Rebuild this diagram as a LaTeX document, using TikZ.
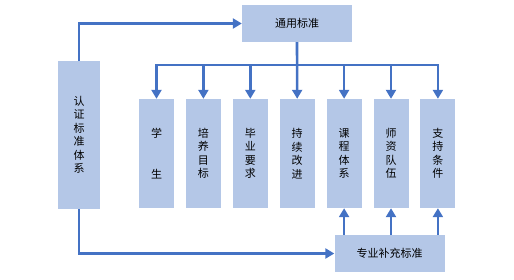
\documentclass[tikz,border=0pt]{standalone}
\usepackage{fontspec}
\setmainfont{Noto Sans CJK SC}
\usetikzlibrary{arrows.meta,positioning}
\definecolor{boxblue}{HTML}{B4C7E7}
\definecolor{lineblue}{HTML}{4472C4}

\begin{document}
\begin{tikzpicture}[x=1pt, y=-1pt,
        node distance=11.5pt and 11.5pt,
        stdbox/.style={rectangle, fill=boxblue, minimum width=110pt, minimum height=37pt, inner sep=0pt, font=\fontsize{11}{13.5}\selectfont},
        column/.style={rectangle, fill=boxblue, minimum width=35pt, minimum height=109pt, inner sep=0pt, align=center, font=\fontsize{11}{13.5}\selectfont},
        arrow/.style={-{Triangle[length=9pt, width=10pt]}, line width=2.6pt, draw=lineblue}
    ]
        \useasboundingbox (0,0) rectangle (514,279);

        \node[stdbox] (general) at (297,23.5) {通用标准};
        \node[column, minimum width=42pt, minimum height=148pt] (cert) at (79,135) {认\\证\\标\\准\\体\\系};
        \node[stdbox] (special) at (389.5,253.5) {专业补充标准};

        \node[column] (student) at (156.5,153.5) {学\\[27pt]生};
        \node[column, right=of student] (goal) {培\\养\\目\\标};
        \node[column, right=of goal] (require) {毕\\业\\要\\求};
        \node[column, right=of require] (improve) {持\\续\\改\\进};
        \node[column, right=of improve] (course) {课\\程\\体\\系};
        \node[column, right=of course] (teacher) {师\\资\\队\\伍};
        \node[column, right=of teacher] (support) {支\\持\\条\\件};

        \coordinate (bus) at (0,65);

        \draw[arrow] (cert.north) |- (general.west);
        \draw[arrow] (cert.south) |- (special.west);

        \draw[arrow] (general.south) -- (improve.north);
        \draw[arrow] (general.south |- bus) -| (student.north);
        \draw[arrow] (general.south |- bus) -| (support.north);
        \draw[arrow] (goal.north |- bus) -- (goal.north);
        \draw[arrow] (require.north |- bus) -- (require.north);
        \draw[arrow] (course.north |- bus) -- (course.north);
        \draw[arrow] (teacher.north |- bus) -- (teacher.north);

        \draw[arrow] (special.north -| course.south) -- (course.south);
        \draw[arrow] (special.north -| teacher.south) -- (teacher.south);
        \draw[arrow] (special.north -| support.south) -- (support.south);
    \end{tikzpicture}
\end{document}
